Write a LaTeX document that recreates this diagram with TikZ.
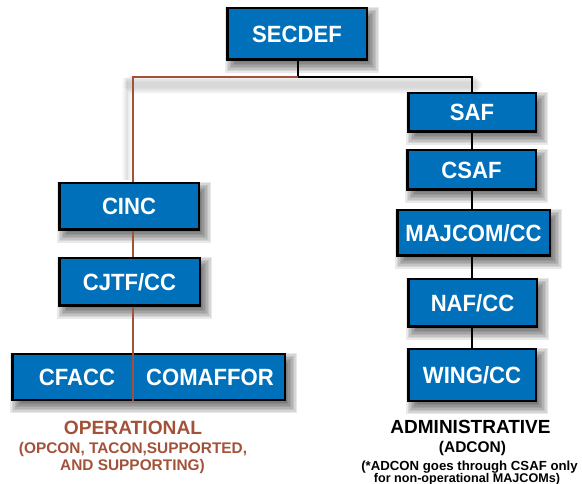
\documentclass[tikz,border=0pt]{standalone}
\usepackage{fontspec}
\setmainfont{Liberation Sans}
\newfontfamily\boxfont{Liberation Sans Bold}[FakeStretch=0.94]
\usetikzlibrary{calc}
\pgfdeclarelayer{background}
\pgfdeclarelayer{edges}
\pgfsetlayers{background,edges,main}
\definecolor{boxblue}{RGB}{0,112,186}
\definecolor{opbrown}{RGB}{163,82,58}
\newcommand\myshadow[1]{%
  \foreach \k in {0,...,8}{%
    \fill[black,opacity=0.085] ($(#1.north west)+(-1+1.5*\k,1.5*\k)$) rectangle ($(#1.south east)+(11-1.5*\k,12-1.5*\k)$);}}
\tikzset{
  box/.style={draw=black, line width=2.5pt, fill=boxblue, text=white,
    font=\boxfont\fontsize{23.5}{27}\selectfont, inner sep=0pt},
  boxtext/.style={text=white, font=\boxfont\fontsize{23.5}{27}\selectfont, inner sep=0pt},
  blk/.style={draw=black, line width=1.8pt},
  brn/.style={draw=opbrown, line width=1.5pt},
  opl/.style={text=opbrown, inner sep=0pt, anchor=base},
  adl/.style={text=black, inner sep=0pt, anchor=base}
}
\begin{document}
\begin{tikzpicture}[x=1pt,y=-1pt]
\useasboundingbox (0,0) rectangle (582,484);
% boxes
\node[box, minimum width=139.5pt, minimum height=51.5pt] (secdef) at (297,34) {SECDEF};
\node[box, minimum width=127.5pt, minimum height=38.5pt] (saf) at (472,112.5) {SAF};
\node[box, minimum width=128.5pt, minimum height=39.5pt] (csaf) at (471.5,170) {CSAF};
\node[box, minimum width=152.5pt, minimum height=45.5pt] (majcom) at (473.5,233) {MAJCOM/CC};
\node[box, minimum width=128.5pt, minimum height=47.5pt] (naf) at (472.5,303) {NAF/CC};
\node[box, minimum width=127.5pt, minimum height=51.5pt] (wing) at (472,375) {WING/CC};
\node[box, minimum width=139.5pt, minimum height=46.5pt] (cinc) at (129,206.5) {CINC};
\node[box, minimum width=140.5pt, minimum height=47.5pt] (cjtf) at (129.5,282) {CJTF/CC};
\node[box, minimum width=272.5pt, minimum height=45.5pt] (comb) at (148.5,377) {};
\node[boxtext] (cfacc) at (77,377) {CFACC};
\node[boxtext] (comaffor) at (210,377) {COMAFFOR};
% shadows
\begin{pgfonlayer}{background}
\foreach \n in {secdef,saf,csaf,majcom,naf,wing,cinc,cjtf,comb}{\myshadow{\n}}
\foreach \k in {0,...,6}{
  \fill[black,opacity=0.022] (130-\k,76+\k) rectangle (476+\k,94-\k);
  \fill[black,opacity=0.018] (122+\k,78) rectangle (132-\k,180);}
\end{pgfonlayer}
% connectors
\coordinate (j) at (298,77);
\coordinate (opx) at (133,77);
\coordinate (adx) at (472,77);
\begin{pgfonlayer}{edges}
\draw[blk] (j) -- (j |- secdef.south);
\draw[brn] (j) -- (opx) -- (opx |- cinc.north);
\draw[blk] (j) -- (adx) -- (adx |- saf.north);
\draw[brn] (opx |- cinc.south) -- (opx |- cjtf.north);
\draw[blk] (adx |- saf.south) -- (adx |- csaf.north);
\draw[blk] (adx |- csaf.south) -- (adx |- majcom.north);
\draw[blk] (adx |- majcom.south) -- (adx |- naf.north);
\draw[blk] (adx |- naf.south) -- (adx |- wing.north);
\end{pgfonlayer}
\draw[brn] (opx |- cjtf.south) -- (opx |- comb.south);
% labels
\node[opl, font=\bfseries\fontsize{19.2}{22}\selectfont] (op1) at (133,434) {OPERATIONAL};
\node[opl, font=\bfseries\fontsize{15.4}{18}\selectfont] (op2) at (133,453) {(OPCON, TACON,SUPPORTED,};
\node[opl, font=\bfseries\fontsize{15.4}{18}\selectfont] (op3) at (132.5,470) {AND SUPPORTING)};
\node[adl, font=\bfseries\fontsize{19}{22}\selectfont] (ad1) at (470.5,433) {ADMINISTRATIVE};
\node[adl, font=\bfseries\fontsize{15.5}{18}\selectfont] (ad2) at (472.5,452) {(ADCON)};
\node[adl, font=\bfseries\fontsize{13.2}{15}\selectfont] (ad3) at (469.5,470) {(*ADCON goes through CSAF only};
\node[adl, font=\bfseries\fontsize{12.6}{15}\selectfont] (ad4) at (467,482.5) {for non-operational MAJCOMs)};
\end{tikzpicture}
\end{document}
